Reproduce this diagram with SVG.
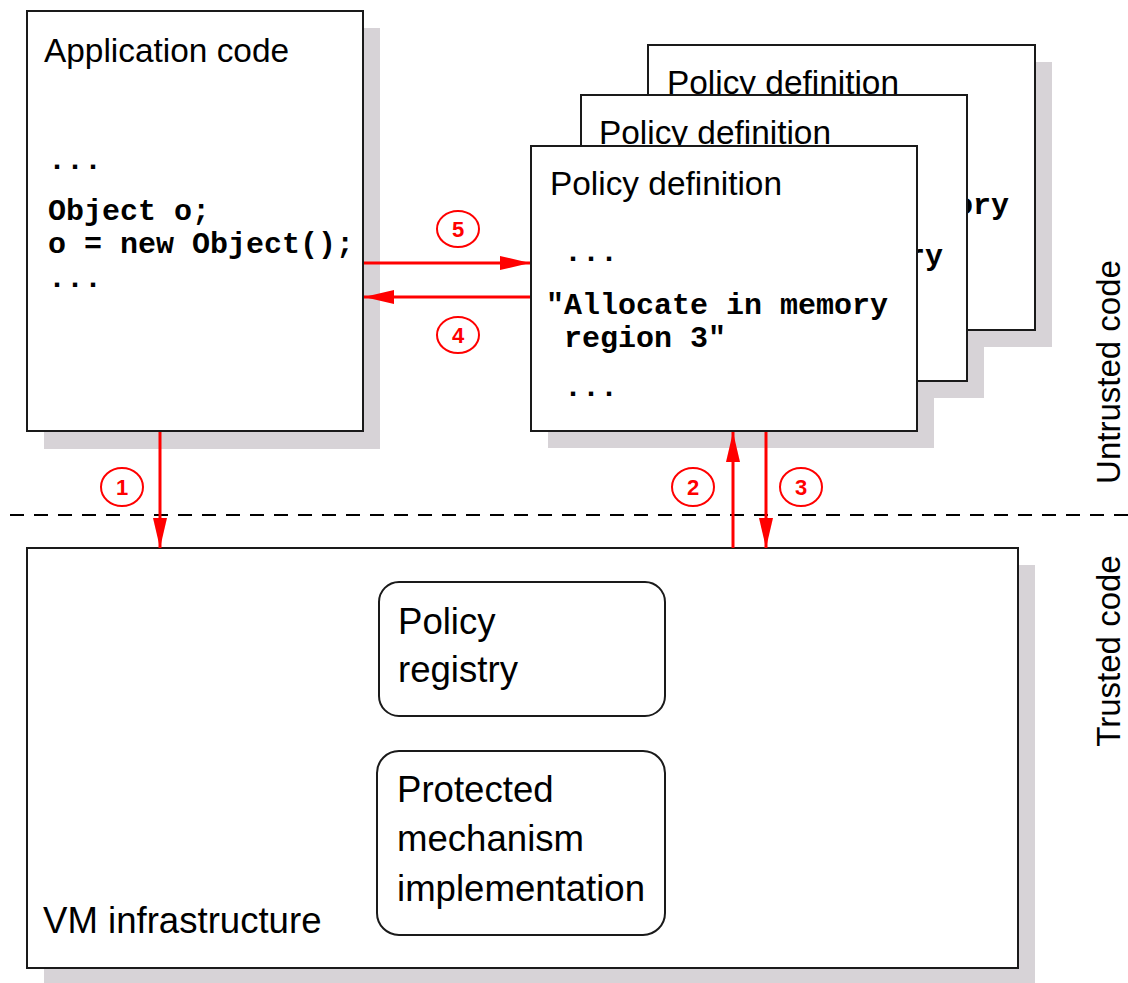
<svg xmlns="http://www.w3.org/2000/svg" width="1128" height="983" viewBox="0 0 1128 983">
  <style>
    .box{fill:#fff;stroke:#1a1a1a;stroke-width:2}
    .shadow{fill:#d7d3d7}
    .t{font-family:"Liberation Sans",Arial,sans-serif;font-size:33.4px;fill:#000}
    .tl{font-family:"Liberation Sans",Arial,sans-serif;font-size:36.6px;fill:#000}
    .code{font-family:"Liberation Mono","Courier New",monospace;font-size:30px;font-weight:bold;fill:#000}
    .wire{stroke:#f00;stroke-width:3;fill:none;marker-end:url(#head)}
    .badge{fill:#fff;stroke:#f00;stroke-width:2}
    .num{font-family:"Liberation Sans",Arial,sans-serif;font-size:22px;font-weight:bold;fill:#f00;text-anchor:middle}
    .side{font-family:"Liberation Sans",Arial,sans-serif;font-size:33px;fill:#000;text-anchor:middle}
  </style>
  <defs>
    <marker id="head" markerWidth="30" markerHeight="14" refX="30" refY="7" orient="auto" markerUnits="userSpaceOnUse">
      <path d="M0,0 L30,7 L0,14 z" fill="#f00"/>
    </marker>
  </defs>

  <rect width="1128" height="983" fill="#fff"/>

  <!-- drop shadows, all behind the boxes -->
  <g id="shadows" class="shadow">
    <rect x="44" y="28" width="336" height="421"/>
    <rect x="665" y="62" width="387" height="285"/>
    <rect x="598" y="112" width="386" height="286"/>
    <rect x="548" y="163" width="386" height="285"/>
    <rect x="44" y="565" width="991" height="420"/>
  </g>

  <!-- boundary between untrusted and trusted code -->
  <line x1="10" y1="515" x2="1128" y2="515" stroke="#000" stroke-width="2" stroke-dasharray="14 10"/>
  <text class="side" transform="translate(1120,372) rotate(-90)">Untrusted code</text>
  <text class="side" transform="translate(1120,651) rotate(-90)">Trusted code</text>

  <g id="app-code">
    <rect class="box" x="27" y="11" width="336" height="420"/>
    <text class="t" x="44" y="62">Application code</text>
    <text class="code" x="48" y="169">...</text>
    <text class="code" x="48" y="220">Object o;</text>
    <text class="code" x="48" y="253">o = new Object();</text>
    <text class="code" x="48" y="287">...</text>
  </g>

  <g id="policy-3">
    <rect class="box" x="648" y="45" width="387" height="285"/>
    <text class="t" x="667" y="94">Policy definition</text>
    <text class="code" x="1009" y="214" text-anchor="end">"Allocate in memory</text>
  </g>

  <g id="policy-2">
    <rect class="box" x="581" y="95" width="386" height="286"/>
    <text class="t" x="599" y="144">Policy definition</text>
    <text class="code" x="943" y="265" text-anchor="end">"Allocate in memory</text>
  </g>

  <g id="policy-1">
    <rect class="box" x="531" y="146" width="386" height="285"/>
    <text class="t" x="550" y="195">Policy definition</text>
    <text class="code" x="564" y="261">...</text>
    <text class="code" x="546" y="314">"Allocate in memory</text>
    <text class="code" x="564" y="347">region 3"</text>
    <text class="code" x="564" y="396">...</text>
  </g>

  <g id="vm">
    <rect class="box" x="27" y="548" width="991" height="420"/>
    <text class="tl" x="43" y="933">VM infrastructure</text>
  </g>

  <g id="policy-registry">
    <rect class="box" x="379" y="582" width="286" height="134" rx="20"/>
    <text class="tl" x="398" y="634">Policy</text>
    <text class="tl" x="398" y="682">registry</text>
  </g>

  <g id="protected-mechanism">
    <rect class="box" x="377" y="751" width="288" height="184" rx="22"/>
    <text class="tl" x="397" y="802">Protected</text>
    <text class="tl" x="397" y="851">mechanism</text>
    <text class="tl" x="397" y="901">implementation</text>
  </g>

  <g id="connectors">
    <line class="wire" x1="160" y1="432" x2="160" y2="548"/>
    <line class="wire" x1="733" y1="548" x2="733" y2="432"/>
    <line class="wire" x1="766" y1="432" x2="766" y2="548"/>
    <line class="wire" x1="364" y1="263" x2="530" y2="263"/>
    <line class="wire" x1="530" y1="297" x2="364" y2="297"/>
  </g>

  <g id="step-labels">
    <ellipse class="badge" cx="122" cy="487" rx="21" ry="19"/>
    <text class="num" x="122" y="495">1</text>
    <ellipse class="badge" cx="693" cy="487" rx="21" ry="19"/>
    <text class="num" x="693" y="495">2</text>
    <ellipse class="badge" cx="801" cy="487" rx="21" ry="19"/>
    <text class="num" x="801" y="495">3</text>
    <ellipse class="badge" cx="458" cy="335" rx="21" ry="18"/>
    <text class="num" x="458" y="343">4</text>
    <ellipse class="badge" cx="458" cy="229" rx="21" ry="18"/>
    <text class="num" x="458" y="237">5</text>
  </g>
</svg>
